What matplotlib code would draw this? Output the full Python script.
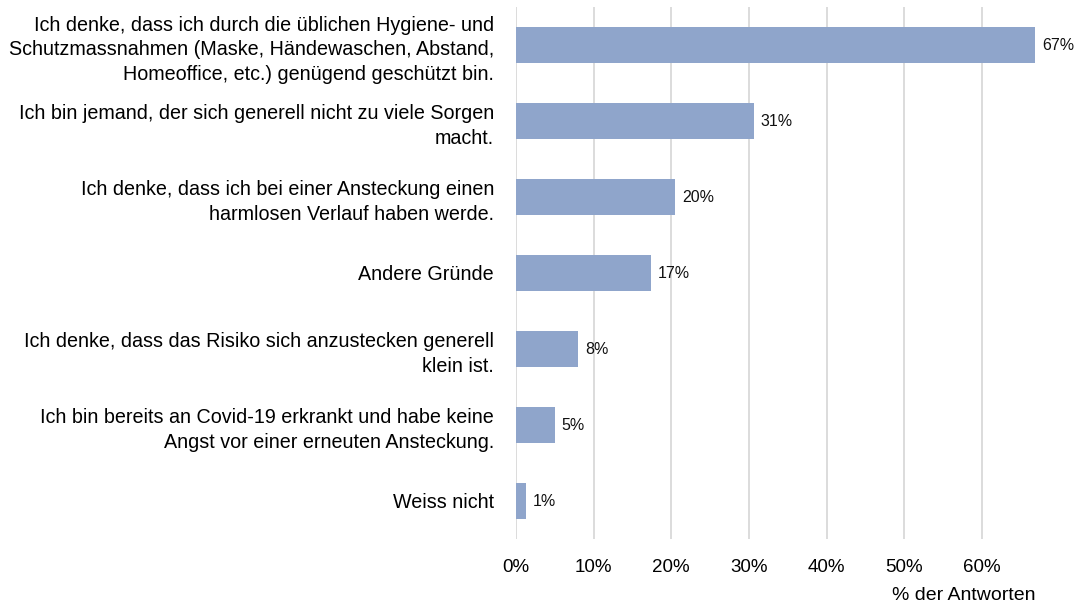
import matplotlib
matplotlib.use("Agg")
import matplotlib.pyplot as plt
from matplotlib.ticker import FuncFormatter

plt.rcParams['font.family'] = ['Liberation Sans', 'DejaVu Sans']

labels = [
    "Ich denke, dass ich durch die üblichen Hygiene- und\nSchutzmassnahmen (Maske, Händewaschen, Abstand,\nHomeoffice, etc.) genügend geschützt bin.",
    "Ich bin jemand, der sich generell nicht zu viele Sorgen\nmacht.",
    "Ich denke, dass ich bei einer Ansteckung einen\nharmlosen Verlauf haben werde.",
    "Andere Gründe",
    "Ich denke, dass das Risiko sich anzustecken generell\nklein ist.",
    "Ich bin bereits an Covid-19 erkrankt und habe keine\nAngst vor einer erneuten Ansteckung.",
    "Weiss nicht",
]
shares = [0.669, 0.306, 0.205, 0.174, 0.080, 0.050, 0.013]
ticks = [0, 0.1, 0.2, 0.3, 0.4, 0.5, 0.6]

bar_color = "#8fa5cb"
grid_color = "#d9d9d9"

fig = plt.figure(figsize=(10.81, 6.04), dpi=100)
ax = fig.add_axes([516 / 1081, 1 - 539 / 604, (1044 - 516) / 1081, (539 - 7) / 604])

y = list(range(len(labels)))
ax.barh(y, shares, height=0.47, color=bar_color, zorder=2)
for yi, v in zip(y, shares):
    ax.text(v + 0.009, yi, f"{round(v * 100):.0f}%", va="center", ha="left",
            fontsize=11.5, color="#111111")

ax.set_ylim(len(labels) - 0.5, -0.5)
ax.set_xlim(0, 0.68)
ax.set_xticks(ticks)
ax.xaxis.set_major_formatter(FuncFormatter(lambda v, _: f"{v * 100:.0f}%"))
ax.set_yticks(y)
ax.set_yticklabels(labels, fontsize=14.25, linespacing=1.38, ha="right")
ax.tick_params(axis="y", length=0, pad=15.8)
ax.tick_params(axis="x", length=0, pad=14.5, labelsize=13.5)
ax.grid(axis="x", color=grid_color, linewidth=1.3, zorder=0)
for s in ax.spines.values():
    s.set_visible(False)

fig.text(1036 / 1081, 1 - 596 / 604, "% der Antworten", ha="right", va="center",
         fontsize=14)

fig.savefig("out.png", dpi=100)
